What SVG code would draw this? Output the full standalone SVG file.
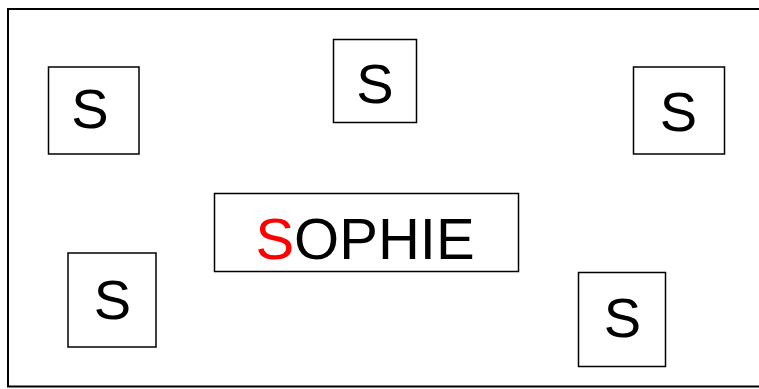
<svg xmlns="http://www.w3.org/2000/svg" width="759" height="389" viewBox="0 0 759 389">
<style>
.box{fill:#fff;stroke:#000;stroke-width:1.5}
.t{font-family:"Liberation Sans",Arial,sans-serif;fill:#000;text-anchor:middle}
.s{font-size:56px}
.big{font-size:58px}
</style>
<rect x="0" y="0" width="759" height="389" fill="#fff"/>
<rect x="8" y="9" width="770" height="377.5" fill="none" stroke="#000" stroke-width="2"/>
<g id="connectors"/>
<g id="s1"><rect class="box" x="48.5" y="67" width="90.5" height="87"/><text class="t s" x="90" y="128">S</text></g>
<g id="s2"><rect class="box" x="333.5" y="39.5" width="83" height="83"/><text class="t s" x="375" y="102.5">S</text></g>
<g id="s3"><rect class="box" x="633.5" y="67" width="91" height="87"/><text class="t s" x="678.5" y="130.5">S</text></g>
<g id="s4"><rect class="box" x="68" y="253" width="88" height="94"/><text class="t s" x="112.5" y="318.5">S</text></g>
<g id="s5"><rect class="box" x="578.5" y="272.5" width="87" height="94"/><text class="t s" x="622.5" y="336.5">S</text></g>
<g id="sophie"><rect class="box" x="214.5" y="193.5" width="304" height="78"/><text class="t big" x="365" y="258.5"><tspan fill="#ff0000">S</tspan>OPHIE</text></g>
</svg>
